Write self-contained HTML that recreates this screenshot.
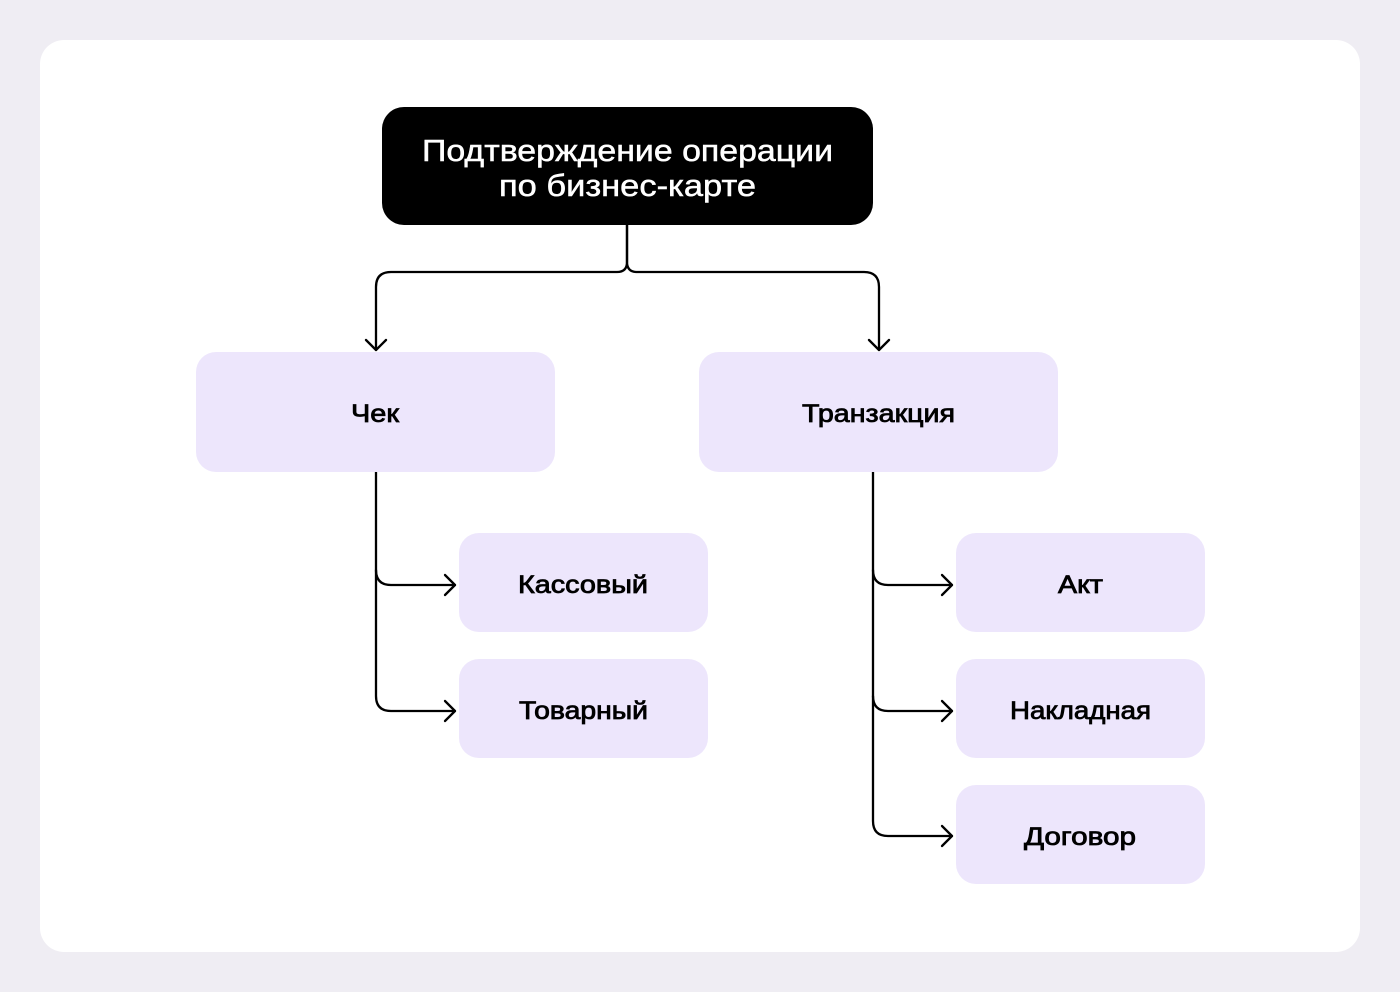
<!DOCTYPE html>
<html><head><meta charset="utf-8"><style>
html,body{margin:0;padding:0;background:#efedf3;}
svg{display:block}
text{font-family:"Liberation Sans",sans-serif;}
</style></head><body>
<svg width="1400" height="992" viewBox="0 0 1400 992" xmlns="http://www.w3.org/2000/svg">
<rect x="0" y="0" width="1400" height="992" fill="#efedf3"/>
<rect x="40" y="40" width="1320" height="912" rx="24" fill="#ffffff"/>
<rect x="382" y="107" width="491" height="118" rx="22" fill="#000"/>
<text x="422" y="161" fill="#fff" font-size="31" textLength="411" lengthAdjust="spacingAndGlyphs" stroke="#fff" stroke-width="0.5">Подтверждение операции</text>
<text x="499" y="196" fill="#fff" font-size="31" textLength="257" lengthAdjust="spacingAndGlyphs" stroke="#fff" stroke-width="0.5">по бизнес-карте</text>
<g fill="none" stroke="#000" stroke-width="2.3" stroke-linecap="round" stroke-linejoin="round">
<path d="M627 225 V262 Q627 272 617 272 H391 Q376 272 376 287 V350"/>
<path d="M627 225 V262 Q627 272 637 272 H864 Q879 272 879 287 V350"/>
<path d="M366 340 L376 350 L386 340"/>
<path d="M869 340 L879 350 L889 340"/>
<path d="M376 472 V570 Q376 585 391 585 H455"/>
<path d="M376 570 V696 Q376 711 391 711 H455"/>
<path d="M445 575 L455 585 L445 595"/>
<path d="M445 701 L455 711 L445 721"/>
<path d="M873 472 V570 Q873 585 888 585 H952"/>
<path d="M873 570 V696 Q873 711 888 711 H952"/>
<path d="M873 696 V821 Q873 836 888 836 H952"/>
<path d="M942 575 L952 585 L942 595"/>
<path d="M942 701 L952 711 L942 721"/>
<path d="M942 826 L952 836 L942 846"/>
</g>
<g fill="#ede6fc">
<rect x="196" y="352" width="359" height="120" rx="20"/>
<rect x="699" y="352" width="359" height="120" rx="20"/>
<rect x="459" y="533" width="249" height="99" rx="20"/>
<rect x="459" y="659" width="249" height="99" rx="20"/>
<rect x="956" y="533" width="249" height="99" rx="20"/>
<rect x="956" y="659" width="249" height="99" rx="20"/>
<rect x="956" y="785" width="249" height="99" rx="20"/>
</g>
<g fill="#000" stroke="#000" stroke-width="0.8" font-size="25" lengthAdjust="spacingAndGlyphs">
<text x="351" y="422" textLength="48" lengthAdjust="spacingAndGlyphs">Чек</text>
<text x="802" y="422" textLength="153" lengthAdjust="spacingAndGlyphs">Транзакция</text>
<text x="518" y="593" textLength="130" lengthAdjust="spacingAndGlyphs">Кассовый</text>
<text x="519" y="719" textLength="129" lengthAdjust="spacingAndGlyphs">Товарный</text>
<text x="1058" y="593" textLength="45" lengthAdjust="spacingAndGlyphs">Акт</text>
<text x="1010" y="719" textLength="141" lengthAdjust="spacingAndGlyphs">Накладная</text>
<text x="1024" y="845" textLength="112" lengthAdjust="spacingAndGlyphs">Договор</text>
</g>
</svg>
</body></html>
